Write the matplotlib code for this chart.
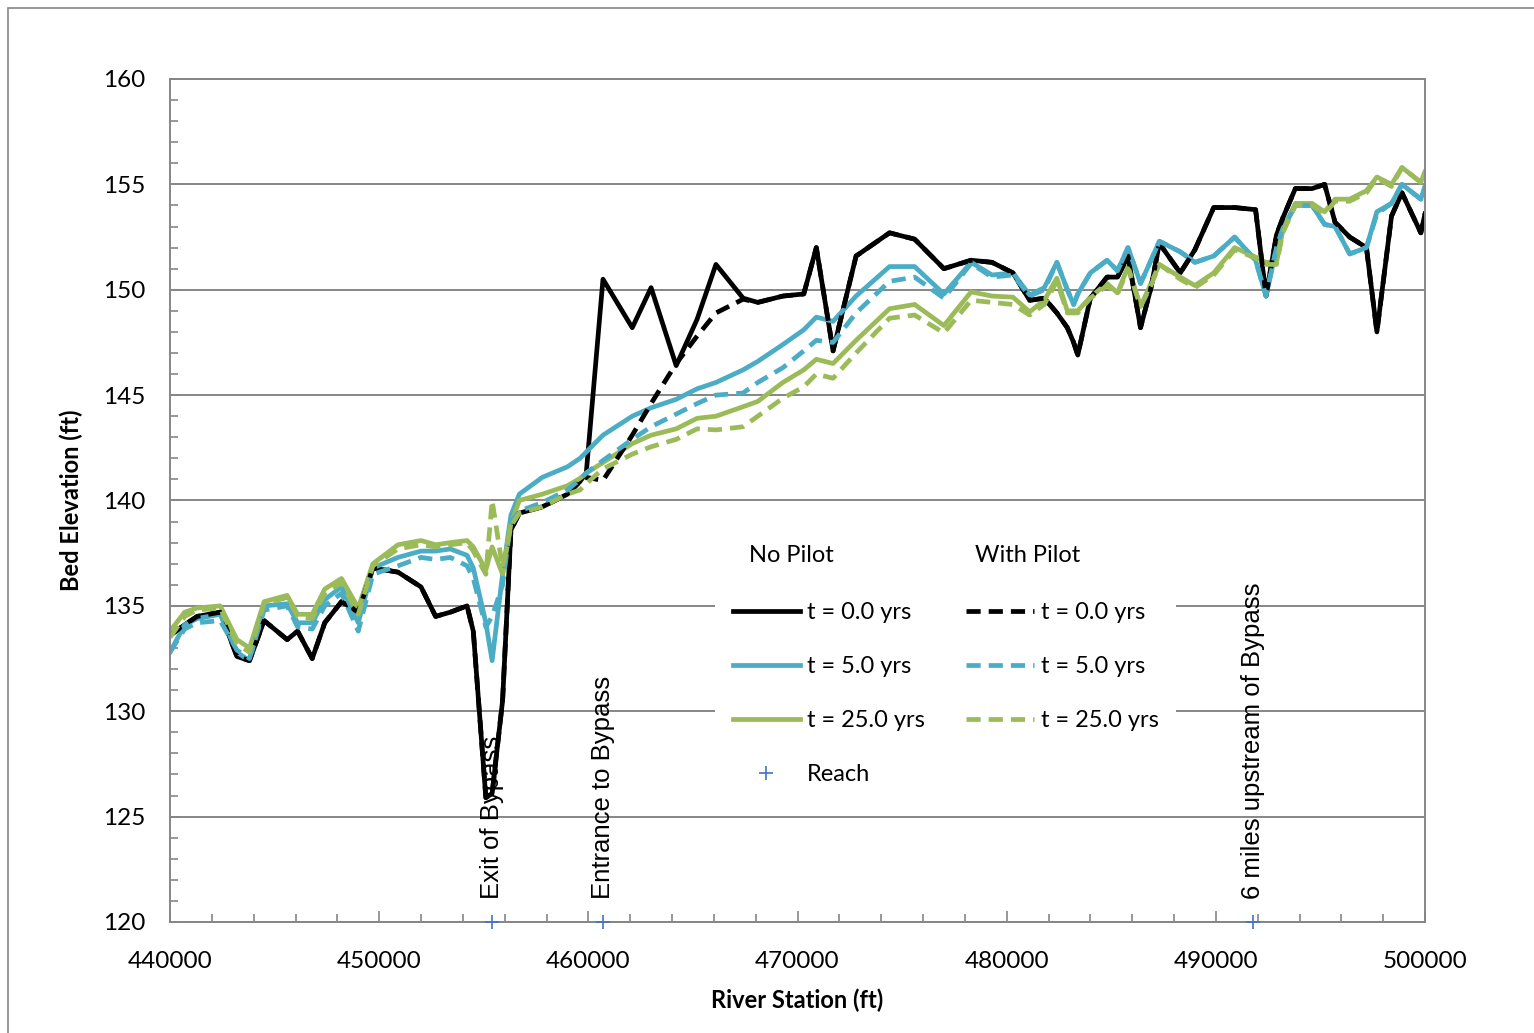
import matplotlib.pyplot as plt
from matplotlib.lines import Line2D
from matplotlib.patches import Rectangle
from matplotlib.ticker import MultipleLocator

# river station (ft)
station = [440000, 440700, 441300, 442400, 443200, 443800, 444500, 445600, 446100, 446800,
           447400, 448200, 449000, 449700, 450900, 452000, 452700, 453400, 454200, 454500,
           455100, 455400, 455900, 456300, 456700, 457800, 459000, 459600, 459900, 460700,
           462100, 463000, 464200, 465200, 466100, 467400, 468100, 469300, 470300, 470900,
           471700, 472800, 474400, 475600, 477000, 478300, 479300, 480300, 481100, 481800,
           482400, 482900, 483200, 483400, 484000, 484800, 485300, 485800, 486400, 486900,
           487300, 488300, 489000, 489900, 490900, 491900, 492400, 492900, 493200, 493800,
           494600, 495200, 495700, 496400, 497200, 497700, 498400, 498900, 499800, 500000]

# bed elevation (ft), no pilot
nop_t0 = [133.6, 134.1, 134.5, 134.7, 132.6, 132.4, 134.3, 133.4, 133.8, 132.5,
          134.2, 135.2, 134.7, 136.8, 136.6, 135.9, 134.5, 134.7, 135.0, 133.8,
          125.9, 126.1, 130.5, 138.6, 139.4, 139.7, 140.3, 140.9, 141.3, 150.5,
          148.2, 150.1, 146.4, 148.6, 151.2, 149.6, 149.4, 149.7, 149.8, 152.0,
          147.1, 151.6, 152.7, 152.4, 151.0, 151.4, 151.3, 150.8, 149.5, 149.6,
          148.9, 148.2, 147.5, 146.9, 149.6, 150.6, 150.6, 151.6, 148.2, 150.1,
          152.2, 150.8, 151.9, 153.9, 153.9, 153.8, 149.7, 152.6, 153.4, 154.8,
          154.8, 155.0, 153.2, 152.5, 152.0, 148.0, 153.5, 154.6, 152.7, 153.6]
nop_t5 = [132.8, 134.1, 134.4, 134.6, 132.8, 132.4, 135.0, 135.1, 134.2, 134.2,
          135.3, 135.9, 134.2, 136.8, 137.3, 137.6, 137.6, 137.7, 137.4, 136.8,
          134.2, 132.4, 136.5, 139.3, 140.3, 141.1, 141.6, 142.0, 142.3, 143.1,
          144.0, 144.4, 144.8, 145.3, 145.6, 146.2, 146.6, 147.4, 148.1, 148.7,
          148.5, 149.7, 151.1, 151.1, 149.8, 151.3, 150.7, 150.8, 149.75, 150.1,
          151.3, 150.0, 149.3, 149.8, 150.8, 151.4, 150.9, 152.0, 150.3, 151.4,
          152.3, 151.8, 151.3, 151.6, 152.5, 151.4, 149.7, 152.0, 152.9, 154.0,
          154.0, 153.1, 153.0, 151.7, 152.0, 153.7, 154.1, 155.0, 154.3, 154.9]
nop_t25 = [133.8, 134.7, 134.9, 135.0, 133.4, 133.0, 135.2, 135.5, 134.6, 134.6,
           135.8, 136.3, 134.9, 137.0, 137.9, 138.1, 137.9, 138.0, 138.1, 137.8,
           136.7, 137.8, 136.5, 138.9, 140.0, 140.3, 140.7, 141.05, 141.3, 141.8,
           142.7, 143.1, 143.4, 143.9, 144.0, 144.45, 144.7, 145.6, 146.2, 146.7,
           146.5, 147.6, 149.1, 149.3, 148.3, 149.9, 149.7, 149.65, 148.95, 149.5,
           150.55, 149.0, 149.0, 149.0, 149.65, 150.3, 149.85, 151.1, 149.2, 150.3,
           151.2, 150.6, 150.2, 150.8, 152.0, 151.55, 151.3, 151.3, 152.8, 154.1,
           154.1, 153.7, 154.3, 154.3, 154.7, 155.35, 155.0, 155.8, 155.1, 155.6]

# bed elevation (ft), with pilot
wp_t0 = [133.6, 134.1, 134.5, 134.7, 132.6, 132.4, 134.3, 133.4, 133.8, 132.5,
         134.2, 135.2, 134.7, 136.8, 136.6, 135.9, 134.5, 134.7, 135.0, 133.8,
         125.9, 126.1, 130.5, 138.6, 139.4, 139.7, 140.3, 140.9, 141.1, 140.95,
         143.1, 144.6, 146.5, 147.8, 148.9, 149.55, 149.4, 149.7, 149.8, 152.0,
         147.1, 151.6, 152.7, 152.4, 151.0, 151.4, 151.3, 150.8, 149.5, 149.6,
         148.9, 148.2, 147.5, 146.9, 149.6, 150.6, 150.6, 151.6, 148.2, 150.1,
         152.2, 150.8, 151.9, 153.9, 153.9, 153.8, 149.7, 152.6, 153.4, 154.8,
         154.8, 155.0, 153.2, 152.5, 152.0, 148.0, 153.5, 154.6, 152.7, 153.6]
wp_t5 = [132.8, 133.9, 134.2, 134.3, 132.9, 132.5, 134.8, 135.0, 134.0, 133.9,
         135.0, 135.6, 133.8, 136.5, 136.9, 137.3, 137.2, 137.3, 136.9, 136.3,
         134.0, 134.5, 136.0, 139.0, 139.5, 139.9, 140.5, 141.0, 141.3, 141.9,
         142.9, 143.5, 144.1, 144.6, 145.0, 145.1, 145.6, 146.3, 147.1, 147.6,
         147.5, 148.9, 150.4, 150.6, 149.6, 151.25, 150.6, 150.7, 149.7, 150.0,
         151.3, 150.0, 149.3, 149.8, 150.8, 151.4, 150.9, 152.0, 150.3, 151.4,
         152.3, 151.8, 151.3, 151.6, 152.5, 151.4, 149.7, 152.0, 152.9, 154.0,
         154.0, 153.1, 153.0, 151.7, 152.0, 153.6, 154.1, 155.0, 154.3, 154.9]
wp_t25 = [133.5, 134.5, 134.8, 134.9, 133.2, 132.8, 135.1, 135.4, 134.5, 134.4,
          135.6, 136.1, 134.6, 136.9, 137.7, 137.9, 137.8, 137.9, 138.0, 137.6,
          136.5, 140.0, 136.8, 138.8, 139.4, 139.7, 140.3, 140.5, 140.8, 141.5,
          142.2, 142.55, 142.9, 143.4, 143.35, 143.5, 144.0, 144.85, 145.4, 146.0,
          145.8, 147.0, 148.65, 148.8, 147.95, 149.5, 149.4, 149.3, 148.8, 149.3,
          150.4, 148.9, 148.9, 148.9, 149.6, 150.2, 149.8, 151.0, 149.2, 150.2,
          151.2, 150.5, 150.1, 150.7, 151.9, 151.5, 151.2, 151.2, 152.7, 154.0,
          154.0, 153.6, 154.2, 154.2, 154.6, 155.3, 154.9, 155.8, 155.1, 155.6]

reach_x = [455400, 460700, 491800]
reach_labels = ['Exit of Bypass', 'Entrance to Bypass', '6 miles upstream of Bypass']

BLACK = '#000000'
BLUE = '#4BACC6'
GREEN = '#9BBB59'
GRID = '#868686'
dash = (3.0, 1.7)

plt.rcParams['font.family'] = ['Lato', 'DejaVu Sans']

fig = plt.figure(figsize=(15.34, 10.33), dpi=100)
fig.patches.append(Rectangle((8 / 1534, -0.1), 1.2, 1.1 - 8 / 1033,
                             transform=fig.transFigure, fill=False,
                             edgecolor=GRID, lw=1.2))
ax = fig.add_axes([170 / 1534, 111 / 1033, 1255 / 1534, 843 / 1033])

lw = 3.4
ax.plot(station, nop_t0, color=BLACK, lw=lw, solid_joinstyle='round')
ax.plot(station, nop_t5, color=BLUE, lw=lw, solid_joinstyle='round')
ax.plot(station, nop_t25, color=GREEN, lw=lw, solid_joinstyle='round')
ax.plot(station, wp_t0, color=BLACK, lw=lw, dashes=dash)
ax.plot(station, wp_t5, color=BLUE, lw=lw, dashes=dash)
ax.plot(station, wp_t25, color=GREEN, lw=lw, dashes=dash)
ax.plot(reach_x, [120] * len(reach_x), ls='none', marker='+', ms=10, mew=1.2,
        color='#4472C4', clip_on=False, zorder=5)

for x, lab in zip(reach_x, reach_labels):
    ax.text(x, 121.1, lab, rotation=90, ha='center', va='bottom',
            fontsize=18.5, family='Liberation Sans')

ax.set_xlim(440000, 500000)
ax.set_ylim(120, 160)
ax.xaxis.set_major_locator(MultipleLocator(10000))
ax.xaxis.set_minor_locator(MultipleLocator(2000))
ax.yaxis.set_major_locator(MultipleLocator(5))
ax.yaxis.set_minor_locator(MultipleLocator(1))
ax.grid(axis='y', which='major', color=GRID, lw=1.4)
ax.set_axisbelow(True)
for s in ax.spines.values():
    s.set_color(GRID)
    s.set_linewidth(1.4)
ax.tick_params(which='both', direction='in', color=GRID, labelsize=17.5)
ax.tick_params(which='major', length=8, width=1.2)
ax.tick_params(which='minor', length=6, width=1.2)
ax.tick_params(axis='y', pad=18)
ax.tick_params(axis='x', pad=21)

ax.set_xlabel('River Station (ft)', fontsize=17, fontweight='bold', labelpad=12)
ax.set_ylabel('Bed Elevation (ft)', fontsize=17, fontweight='bold', labelpad=14)

# legend: two columns with headers drawn separately
blank = Line2D([], [], ls='none')
handles = [blank,
           Line2D([], [], color=BLACK, lw=lw),
           Line2D([], [], color=BLUE, lw=lw),
           Line2D([], [], color=GREEN, lw=lw),
           Line2D([], [], ls='none', marker='+', ms=10, mew=1.2, color='#4472C4'),
           blank,
           Line2D([], [], color=BLACK, lw=lw, dashes=dash),
           Line2D([], [], color=BLUE, lw=lw, dashes=dash),
           Line2D([], [], color=GREEN, lw=lw, dashes=dash)]
labels = [' ', 't = 0.0 yrs', 't = 5.0 yrs', 't = 25.0 yrs', 'Reach',
          ' ', 't = 0.0 yrs', 't = 5.0 yrs', 't = 25.0 yrs']
leg = ax.legend(handles, labels, ncol=2, loc='upper left',
                bbox_to_anchor=((715 - 170) / 1255, (922 - 530) / 843),
                borderaxespad=0, borderpad=0.75, fontsize=17,
                handlelength=2.85, handletextpad=0.3, columnspacing=1.75,
                labelspacing=1.4, frameon=True, fancybox=False,
                facecolor='white', edgecolor='none', framealpha=1)
ax.text((749 - 170) / 1255, (922 - 555) / 843, 'No Pilot', transform=ax.transAxes,
        fontsize=17, va='center', ha='left', zorder=10)
ax.text((975 - 170) / 1255, (922 - 555) / 843, 'With Pilot', transform=ax.transAxes,
        fontsize=17, va='center', ha='left', zorder=10)

fig.savefig('out.png', dpi=100)
